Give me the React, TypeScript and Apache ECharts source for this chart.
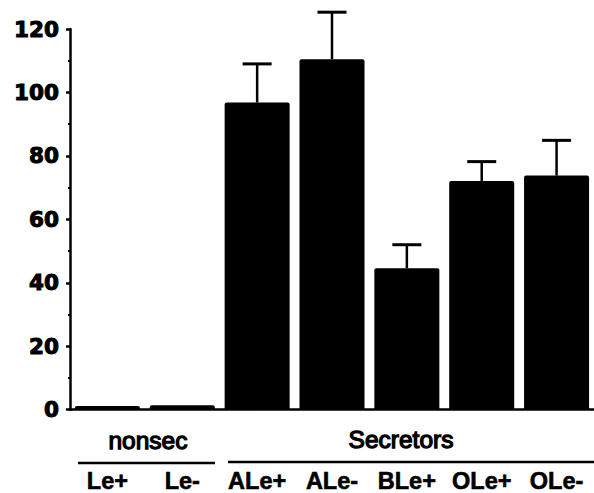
import React, { useEffect, useRef } from "react";
import * as echarts from "echarts";

const categories = ["Le+", "Le-", "ALe+", "ALe-", "BLe+", "OLe+", "OLe-"];
const meanValues = [1.2, 1.4, 96.8, 110.5, 44.6, 72.1, 73.8];
const upperValues: (number | null)[] = [null, null, 109, 125.3, 52, 78.2, 84.9];
const yTicks = { min: 0, max: 120, interval: 20 };
const groupLabels = ["nonsec", "Secretors"];

export default function App() {
  const ref = useRef<HTMLDivElement>(null);
  useEffect(() => {
    if (!ref.current) return;
    const chart = echarts.init(ref.current, null, { renderer: "svg" });
    const errData = categories
      .map((c, i) => (upperValues[i] == null ? null : [i, meanValues[i], upperValues[i]]))
      .filter((d) => d !== null);
    chart.setOption({
      animation: false,
      backgroundColor: "#ffffff",
      grid: { left: 70, top: 29, height: 381, width: 531 },
      xAxis: {
        type: "category",
        data: categories,
        axisLine: { show: true, lineStyle: { color: "#000", width: 2.5 } },
        axisTick: { show: false },
        axisLabel: {
          interval: 0,
          hideOverlap: false,
          margin: 59,
          color: "#000",
          fontFamily: "Liberation Sans",
          fontWeight: "bold",
          fontSize: 23.5,
          textBorderColor: "#000",
          textBorderWidth: 0.6,
        },
      },
      yAxis: {
        type: "value",
        min: yTicks.min,
        max: yTicks.max,
        interval: yTicks.interval,
        splitLine: { show: false },
        axisLine: { show: true, lineStyle: { color: "#000", width: 2.5 } },
        axisTick: { show: true, length: 4, lineStyle: { color: "#000", width: 2.5 } },
        minorTick: { show: true, splitNumber: 2, length: 2, lineStyle: { color: "#000", width: 2 } },
        axisLabel: {
          margin: 11,
          color: "#000",
          fontFamily: "DejaVu Sans",
          fontWeight: "bold",
          fontSize: 21.5,
          textBorderColor: "#000",
          textBorderWidth: 1,
        },
      },
      series: [
        {
          type: "bar",
          data: meanValues,
          barWidth: 65,
          itemStyle: { color: "#000", borderRadius: [2, 2, 0, 0] },
        },
        {
          type: "custom",
          data: errData,
          z: 3,
          renderItem: (params: any, api: any) => {
            const x = api.value(0);
            const lo = api.coord([x, api.value(1)]);
            const hi = api.coord([x, api.value(2)]);
            const half = 14.5;
            return {
              type: "group",
              children: [
                {
                  type: "line",
                  shape: { x1: lo[0], y1: lo[1], x2: hi[0], y2: hi[1] },
                  style: { stroke: "#000", lineWidth: 2.5 },
                },
                {
                  type: "line",
                  shape: { x1: hi[0] - half, y1: hi[1], x2: hi[0] + half, y2: hi[1] },
                  style: { stroke: "#000", lineWidth: 3 },
                },
              ],
            };
          },
        },
      ],
      graphic: [
        {
          type: "text",
          style: {
            text: groupLabels[0],
            x: 148,
            y: 440,
            align: "center",
            verticalAlign: "middle",
            fill: "#000",
            stroke: "#000",
            lineWidth: 1.3,
            fontFamily: "Liberation Sans",
            fontSize: 24.5,
          },
        },
        {
          type: "line",
          shape: { x1: 78, y1: 463, x2: 215, y2: 463 },
          style: { stroke: "#000", lineWidth: 2.5 },
        },
        {
          type: "text",
          style: {
            text: groupLabels[1],
            x: 401,
            y: 439,
            align: "center",
            verticalAlign: "middle",
            fill: "#000",
            stroke: "#000",
            lineWidth: 1.3,
            fontFamily: "Liberation Sans",
            fontSize: 24.5,
          },
        },
        {
          type: "line",
          shape: { x1: 228, y1: 462, x2: 594, y2: 462 },
          style: { stroke: "#000", lineWidth: 2.5 },
        },
      ],
    });
    return () => chart.dispose();
  }, []);
  return (
    <div
      ref={ref}
      style={{ position: "fixed", left: 0, top: 0, width: 594, height: 493, background: "#fff" }}
    />
  );
}
